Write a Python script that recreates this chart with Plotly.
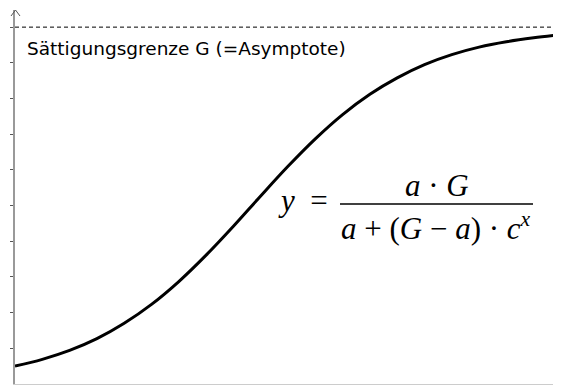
import plotly.graph_objects as go

# values (x in arbitrary units 0..10, y in tick units)
x_vals = [0, 0.5, 1, 1.5, 2, 2.5, 3, 3.5, 4, 4.5, 5, 5.5, 6, 6.5, 7, 7.5, 8, 8.5, 9, 9.5, 10]
y_vals = [0.50, 0.69, 0.94, 1.27, 1.70, 2.23, 2.87, 3.61, 4.42, 5.27, 6.10, 6.87, 7.55,
          8.12, 8.58, 8.95, 9.23, 9.44, 9.59, 9.70, 9.79]
G = 10
y_ticks = [1, 2, 3, 4, 5, 6, 7, 8, 9, 10]
label_text = "Sättigungsgrenze G (=Asymptote)"

OFF = 8  # page body margin
W, H = 561 - OFF, 385 - OFF
L, R, T, B = 7, 0, 2, 1
pw, ph = W - L - R, H - T - B
YMAX = 10.48


def px(x):  # screen x -> paper
    return (x - OFF - L) / pw


def py(y):  # screen y -> paper
    return (H - B - (y - OFF)) / ph


fig = go.Figure()
fig.add_trace(go.Scatter(x=x_vals, y=y_vals, mode="lines",
                         line=dict(color="black", width=3, shape="spline"),
                         hoverinfo="skip", showlegend=False))
fig.add_trace(go.Scatter(x=[0, 10], y=[G, G], mode="lines",
                         line=dict(color="black", width=1, dash="4px,3px"),
                         hoverinfo="skip", showlegend=False))

serif = "Liberation Serif"
sp = " "
annotations = [
    dict(x=px(25), y=py(48.5), xref="paper", yref="paper", xanchor="left", yanchor="middle",
         text=label_text, showarrow=False,
         font=dict(family="DejaVu Sans", size=18.5, color="black")),
    dict(x=px(303), y=py(200), xref="paper", yref="paper", xanchor="center", yanchor="middle",
         text="<i>y</i>" + "\u2002" + "=", showarrow=False,
         font=dict(family=serif, size=31, color="black")),
    dict(x=px(437), y=py(185), xref="paper", yref="paper", xanchor="center", yanchor="middle",
         text="<i>a</i>" + sp + "·" + sp + "<i>G</i>", showarrow=False,
         font=dict(family=serif, size=31, color="black")),
    dict(x=px(436), y=py(226), xref="paper", yref="paper", xanchor="center", yanchor="middle",
         text=("<i>a</i>" + sp + "+" + sp + "(<i>G</i>" + sp + "−" + sp + "<i>a</i>)"
               + sp + "·" + sp + "<i>c</i><sup><i>x</i></sup>"),
         showarrow=False, font=dict(family=serif, size=31, color="black")),
]

shapes = [
    # fraction bar
    dict(type="line", xref="paper", yref="paper", x0=px(340), x1=px(533), y0=py(204), y1=py(204),
         line=dict(color="black", width=1.3)),
    # arrow head on y axis
    dict(type="path", xref="paper", yref="paper",
         path=f"M {px(11)} {py(16)} L {px(15.5)} {py(10)} L {px(20)} {py(16)}",
         line=dict(color="#555555", width=1)),
]

fig.update_layout(
    width=W, height=H,
    margin=dict(l=L, r=R, t=T, b=B, pad=0),
    paper_bgcolor="white", plot_bgcolor="white",
    xaxis=dict(range=[0, 10], showgrid=False, zeroline=False, showticklabels=False,
               showline=True, linecolor="#cccccc", linewidth=1, ticks=""),
    yaxis=dict(range=[0, YMAX], showgrid=False, zeroline=False, showticklabels=False,
               showline=True, linecolor="#999999", linewidth=1.5,
               ticks="outside", ticklen=3, tickwidth=1, tickcolor="#555555",
               tickvals=y_ticks),
    annotations=annotations, shapes=shapes,
)

fig.write_html("out.html")
